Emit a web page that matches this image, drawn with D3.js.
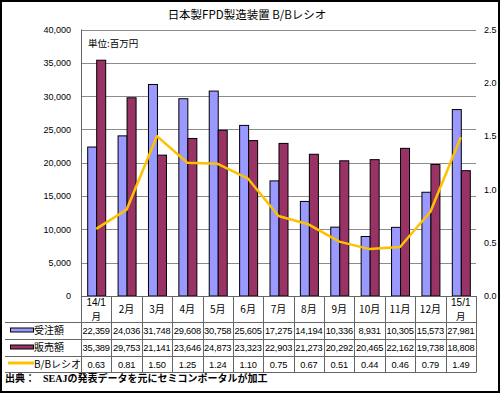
<!DOCTYPE html>
<html>
<head>
<meta charset="utf-8">
<script src="https://cdn.jsdelivr.net/npm/d3@7"></script>
<style>
  body { margin: 0; background: #fff; }
  svg { display: block; font-family: "Liberation Sans", Arial, sans-serif; }
  .jp { font-family: "Noto Sans CJK JP", sans-serif; }
</style>
</head>
<body>
<script>
// data
const months = ['14/1|月', '2月', '3月', '4月', '5月', '6月', '7月', '8月', '9月', '10月', '11月', '12月', '15/1|月']
const orders = [22359, 24036, 31748, 29608, 30758, 25605, 17275, 14194, 10336, 8931, 10305, 15573, 27981]
const sales = [35389, 29753, 21141, 23646, 24873, 23323, 22903, 21273, 20292, 20465, 22162, 19738, 18808]
const bbRatio = [0.63, 0.81, 1.50, 1.25, 1.24, 1.10, 0.75, 0.67, 0.51, 0.44, 0.46, 0.79, 1.49]
const leftTicks = [0, 5000, 10000, 15000, 20000, 25000, 30000, 35000, 40000]
const rightTicks = [0, 0.5, 1.0, 1.5, 2.0, 2.5]
const seriesNames = ['受注額', '販売額', 'B/Bレシオ']

const W = 500, H = 393
const plot = { left: 81, right: 476, top: 29.5, bottom: 296 }
const rowY = [296, 322, 339, 356, 372]

const blue = '#9999ff', maroon = '#993366', orange = '#ffc000', gridCol = '#8c8c8c', lineCol = '#666'

const svg = d3.select('body').append('svg')
  .attr('width', W)
  .attr('height', H)

svg.append('rect')
  .attr('x', 1).attr('y', 1)
  .attr('width', W - 2).attr('height', H - 2)
  .attr('fill', '#fff')
  .attr('stroke', '#000')
  .attr('stroke-width', 2)

const xScale = d3.scaleBand().domain(d3.range(months.length)).range([plot.left, plot.right])
const yLeft = d3.scaleLinear().domain([0, 40000]).range([plot.bottom, plot.top])
const yRight = d3.scaleLinear().domain([0, 2.5]).range([plot.bottom, plot.top])
const inner = d3.scaleBand().domain([0, 1]).range([0, 18])
const groupOff = (xScale.bandwidth() - 18) / 2

// title
svg.append('text')
  .attr('class', 'jp')
  .attr('x', 247).attr('y', 19)
  .attr('text-anchor', 'middle')
  .style('font-size', '11.5px')
  .text('日本製FPD製造装置 B/Bレシオ')

// grid lines
svg.append('g').selectAll('line')
  .data(leftTicks.filter(d => d > 0))
  .join('line')
  .attr('x1', plot.left).attr('x2', plot.right)
  .attr('y1', d => Math.round(yLeft(d)) + 0.5).attr('y2', d => Math.round(yLeft(d)) + 0.5)
  .attr('stroke', gridCol)

svg.append('text')
  .attr('class', 'jp')
  .attr('x', 88).attr('y', 47)
  .style('font-size', '9.5px')
  .text('単位:百万円')

// axes
const leftAxis = svg.append('g')
  .attr('transform', `translate(${plot.left},0)`)
  .call(d3.axisLeft(yLeft).tickValues(leftTicks).tickSize(0).tickPadding(10).tickFormat(d3.format(',')))
leftAxis.select('.domain').remove()
leftAxis.selectAll('text').style('font-size', '9px').style('font-family', '"Liberation Sans", Arial, sans-serif')

const rightAxis = svg.append('g')
  .attr('transform', `translate(${plot.right},0)`)
  .call(d3.axisRight(yRight).tickValues(rightTicks).tickSize(0).tickPadding(8).tickFormat(d3.format('.1f')))
rightAxis.select('.domain').remove()
rightAxis.selectAll('text').style('font-size', '9px').style('font-family', '"Liberation Sans", Arial, sans-serif')

// bars
const groups = svg.append('g').selectAll('g')
  .data(months.map((m, i) => ({ i, vals: [orders[i], sales[i]] })))
  .join('g')
  .attr('transform', d => `translate(${xScale(d.i) + groupOff},0)`)

groups.selectAll('rect')
  .data(d => d.vals.map((v, k) => ({ v, k })))
  .join('rect')
  .attr('x', d => inner(d.k) + 0.5)
  .attr('y', d => yLeft(d.v))
  .attr('width', inner.bandwidth())
  .attr('height', d => plot.bottom - yLeft(d.v))
  .attr('fill', d => d.k === 0 ? blue : maroon)
  .attr('stroke', '#000')
  .attr('stroke-width', 1)

// B/B line
const line = d3.line()
  .x((d, i) => xScale(i) + xScale.bandwidth() / 2)
  .y(d => yRight(d))

svg.append('path')
  .datum(bbRatio)
  .attr('d', line)
  .attr('fill', 'none')
  .attr('stroke', orange)
  .attr('stroke-width', 2.5)
  .attr('stroke-linejoin', 'round')

// table lines
const table = svg.append('g')
table.selectAll('line.h')
  .data(rowY)
  .join('line')
  .attr('class', 'h')
  .attr('x1', (d, i) => i === 0 ? plot.left : 5).attr('x2', plot.right)
  .attr('y1', d => d + 0.5).attr('y2', d => d + 0.5)
  .attr('stroke', lineCol)

const colEdges = d3.range(months.length + 1).map(i => i < months.length ? xScale(i) : plot.right)
table.selectAll('line.v')
  .data(colEdges)
  .join('line')
  .attr('class', 'v')
  .attr('x1', d => Math.round(d) + 0.5).attr('x2', d => Math.round(d) + 0.5)
  .attr('y1', (d, i) => i === 0 ? plot.top : rowY[0]).attr('y2', rowY[4] + 0.5)
  .attr('stroke', lineCol)

// month header (two-line labels get separate text elements)
const headerG = table.append('g')
months.forEach((d, i) => {
  const cx = xScale(i) + xScale.bandwidth() / 2
  const parts = d.split('|')
  if (parts.length === 1) {
    headerG.append('text')
      .attr('class', 'jp')
      .attr('x', cx).attr('y', 313)
      .attr('text-anchor', 'middle')
      .style('font-size', '10px')
      .text(parts[0])
  } else {
    headerG.append('text')
      .attr('x', cx).attr('y', 305.5)
      .attr('text-anchor', 'middle')
      .style('font-size', '10px')
      .text(parts[0])
    headerG.append('text')
      .attr('class', 'jp')
      .attr('x', cx).attr('y', 319.5)
      .attr('text-anchor', 'middle')
      .style('font-size', '9.5px')
      .text(parts[1])
  }
})

// value rows
const rows = [
  { vals: orders, fmt: d3.format(',') },
  { vals: sales, fmt: d3.format(',') },
  { vals: bbRatio, fmt: d3.format('.2f') }
]
rows.forEach((r, ri) => {
  const cy = (rowY[ri + 1] + rowY[ri + 2]) / 2 + 3.5
  table.append('g').selectAll('text')
    .data(r.vals)
    .join('text')
    .attr('x', (d, i) => xScale(i) + xScale.bandwidth() / 2)
    .attr('y', cy)
    .attr('text-anchor', 'middle')
    .style('font-size', '9.3px')
    .style('letter-spacing', '-0.2px')
    .text(r.fmt)
})

// legend keys inside the table
const legend = table.append('g')
seriesNames.forEach((name, k) => {
  const cy = (rowY[k + 1] + rowY[k + 2]) / 2
  if (k < 2) {
    legend.append('rect')
      .attr('x', 10.5).attr('y', cy - 2.5)
      .attr('width', 23).attr('height', 4)
      .attr('fill', k === 0 ? blue : maroon)
      .attr('stroke', '#000')
  } else {
    legend.append('line')
      .attr('x1', 8).attr('x2', 34)
      .attr('y1', cy - 1).attr('y2', cy - 1)
      .attr('stroke', orange)
      .attr('stroke-width', 3)
  }
  legend.append('text')
    .attr('class', 'jp')
    .attr('x', 34).attr('y', cy + 3.5)
    .style('font-size', '10px')
    .text(name)
})

// source note
const src = svg.append('g')
  .style('font-family', '"Liberation Serif", "Noto Sans CJK JP", serif')
  .style('font-weight', 'bold')
  .style('font-size', '10px')
src.append('text').attr('x', 5).attr('y', 382).text('出典：')
src.append('text').attr('x', 43).attr('y', 382).text('SEAJの発表データを元にセミコンポータルが加工')
</script>
</body>
</html>
